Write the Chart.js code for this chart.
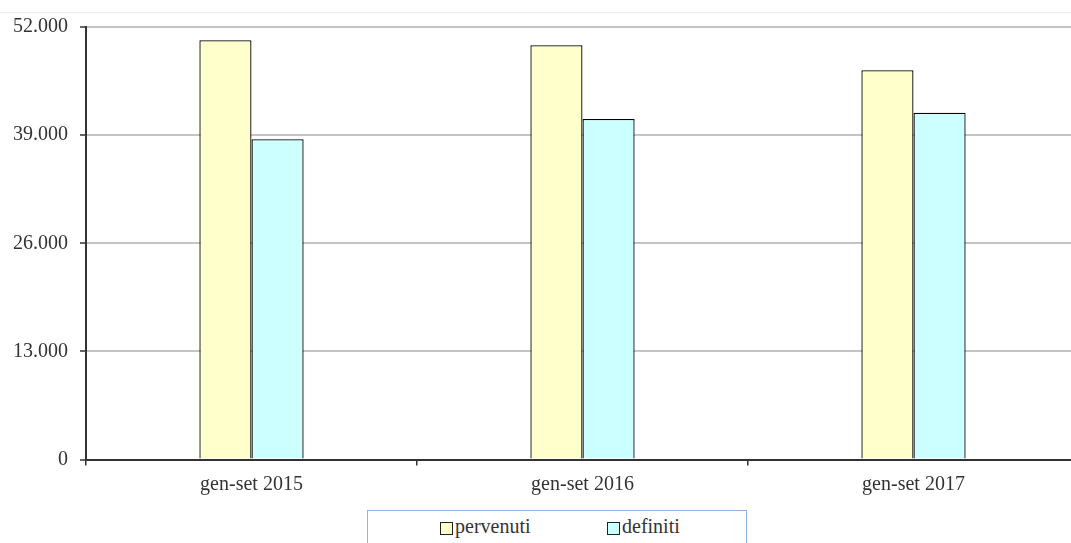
<!DOCTYPE html>
<html>
<head>
<meta charset="utf-8">
<script src="https://cdn.jsdelivr.net/npm/chart.js@4.4.0/dist/chart.umd.min.js"></script>
<style>
  html, body { margin: 0; padding: 0; background: #fff; overflow: hidden; width: 1071px; height: 543px; }
  #wrap { position: absolute; left: 0; top: 0; width: 1080px; height: 500px; }
  #topline { position: absolute; left: 0; top: 12px; width: 1071px; height: 0; border-top: 1px solid #ebebeb; }
  #legend { position: absolute; left: 367px; top: 510px; width: 380px; height: 40px; border: 1px solid #8fb4e3; box-sizing: border-box;
            font-family: "Liberation Serif", serif; font-size: 20px; color: #333; }
  .item { position: absolute; top: 4px; display: flex; align-items: center; white-space: nowrap; }
  .sw { width: 11px; height: 11px; border: 1px solid #222; margin-right: 2px; margin-top: 3px; }
</style>
</head>
<body>
<div id="topline"></div>
<div id="wrap"><canvas id="c"></canvas></div>
<div id="legend"></div>
<script>
const categories = ["gen-set 2015", "gen-set 2016", "gen-set 2017"];
const seriesNames = ["pervenuti", "definiti"];
const pervenuti = [50400, 49800, 46800];
const definiti = [38500, 40950, 41700];
const yTicks = [0, 13000, 26000, 39000, 52000];
const fills = ["#FFFFCC", "#CCFFFF"];

function fmt(v) {
  return v.toString().replace(/\B(?=(\d{3})+(?!\d))/g, ".");
}

const font = { family: "Liberation Serif", size: 20 };

new Chart(document.getElementById("c"), {
  type: "bar",
  data: {
    labels: categories,
    datasets: [
      { label: seriesNames[0], data: pervenuti, backgroundColor: fills[0], borderColor: "#000", borderWidth: 1.3 },
      { label: seriesNames[1], data: definiti, backgroundColor: fills[1], borderColor: "#000", borderWidth: 1.3 }
    ]
  },
  options: {
    responsive: true,
    maintainAspectRatio: false,
    animation: false,
    layout: { padding: { top: 27, right: 1, left: 0, bottom: 0 } },
    datasets: { bar: { categoryPercentage: 0.315, barPercentage: 1 } },
    plugins: { legend: { display: false }, tooltip: { enabled: false } },
    scales: {
      x: {
        offset: true,
        grid: { offset: true, drawOnChartArea: false, drawTicks: true, tickLength: 6, color: "#333", lineWidth: 1.5 },
        border: { color: "#333", width: 2 },
        ticks: { font: font, color: "#333", padding: 7, maxRotation: 0 },
        afterFit: s => { s.height = 40.5; }
      },
      y: {
        min: 0, max: 52000,
        afterBuildTicks: s => { s.ticks = yTicks.map(v => ({ value: v })); },
        grid: { color: "#c4c4c4", lineWidth: 2, tickLength: 6, tickColor: "#333", tickWidth: 1.5 },
        border: { color: "#333", width: 2 },
        ticks: { font: font, color: "#333", padding: 12, callback: v => fmt(v) },
        afterFit: s => { s.width = 86; }
      }
    }
  }
});

const lg = document.getElementById("legend");
const lx = [72, 239];
seriesNames.forEach((n, i) => {
  const d = document.createElement("div");
  d.className = "item";
  d.style.left = lx[i] + "px";
  d.innerHTML = '<span class="sw" style="background:' + fills[i] + '"></span><span>' + n + '</span>';
  lg.appendChild(d);
});
</script>
</body>
</html>
